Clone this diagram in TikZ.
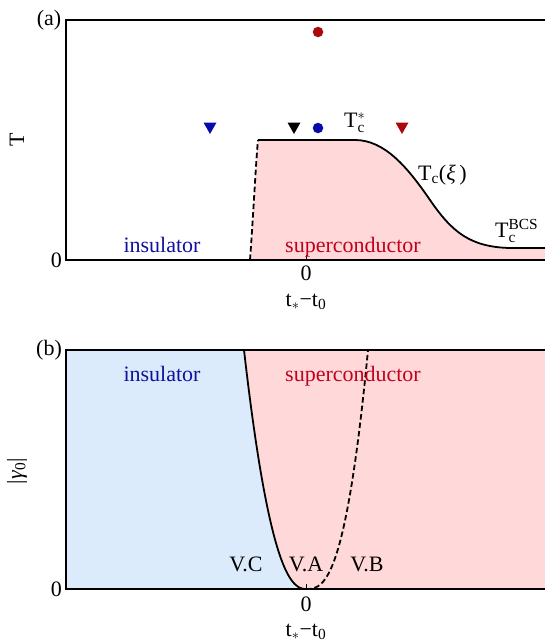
\documentclass[tikz,border=0pt]{standalone}
\usepackage{fontspec}
\usepackage{amsmath}
\setmainfont{Liberation Serif}
\definecolor{pinkfill}{HTML}{FFD9D9}
\definecolor{bluefill}{HTML}{DCEBFB}
\definecolor{tblue}{HTML}{10109E}
\definecolor{tred}{HTML}{C2001E}
\definecolor{mred}{HTML}{A80A0A}
\definecolor{mblue}{HTML}{0A0AA8}
\tikzset{
  frame/.style={line width=1.7pt},
  curve/.style={line width=1.8pt},
  dcurve/.style={line width=1.8pt, dash pattern=on 5.5pt off 3pt},
  lbl/.style={inner sep=0pt},
  dotm/.style={circle, fill=#1, minimum size=10.5pt, inner sep=0pt},
}
\newcommand\tridown[3]{\fill[#3] (#1-6.5,#2-5.5) -- (#1+6.5,#2-5.5) -- (#1,#2+6) -- cycle;}
\begin{document}
\begin{tikzpicture}[x=1pt,y=-1pt,font=\fontsize{22}{26}\selectfont]
\useasboundingbox (0,0) rectangle (545,642);
% ---------------- panel (a)
\fill[pinkfill] (250,260) .. controls (253,220) and (256,160) .. (258,140)
  -- (355,140) .. controls (385,140) and (408,168) .. (430,200)
  .. controls (452,232) and (470,247) .. (510,248) -- (545,248) -- (545,260) -- cycle;
\draw[dcurve] (250,260) .. controls (253,220) and (256,160) .. (258,140);
\draw[curve] (258,140) -- (355,140) .. controls (385,140) and (408,168) .. (430,200)
  .. controls (452,232) and (470,247) .. (510,248) -- (545,248);
\draw[frame] (545,20) -- (66,20) -- (66,260) -- (545,260);
\draw[line width=1pt] (306,260) -- (306,255);
\node[dotm=mred] (rdot) at (318,32) {};
\node[dotm=mblue] (bdot) at (318,128) {};
\tridown{210}{128}{mblue}
\tridown{294}{128}{black}
\tridown{402}{128}{mred}
\node[lbl] (la) at (49,20) {(a)};
\node[lbl,anchor=east] (ya0) at (62,260) {0};
\node[lbl,rotate=90] (ya) at (17,140) {T};
\node[lbl] (xa0) at (306,273) {0};
\node[lbl] (xa) at (306,302) {t$_*$−t$_{\text{0}}$};
\node[lbl,anchor=base,text=tblue] (insa) at (162,252) {insulator};
\node[lbl,anchor=base,text=tred] (sca) at (353,252) {superconductor};
\node[lbl,anchor=base west] (tcs) at (344,127) {T$^{*}_{\text{c}}$};
\node[lbl,anchor=base west] (tcx) at (418,180) {T$_{\text{c}}$(\textit{ξ}\,)};
\node[lbl,anchor=base west] (tcb) at (495,237) {T$^{\text{BCS}}_{\text{c}}$};
% ---------------- panel (b)
\fill[pinkfill] (66,350) rectangle (545,589);
\fill[bluefill] (66,350) -- (244,350)
  -- plot[domain=1:0.005, samples=80] ({306-62*\x}, {589-239*(\x)^2.27})
  -- (306,589) -- (66,589) -- cycle;
\draw[curve] (244,350) -- plot[domain=1:0.005, samples=80] ({306-62*\x}, {589-239*(\x)^2.27}) -- (306,589);
\draw[dcurve] (306,589) -- plot[domain=0.005:1, samples=80] ({306+62*\x}, {589-239*(\x)^2.7});
\draw[frame] (545,350) -- (66,350) -- (66,589) -- (545,589);
\draw[line width=1pt] (306,589) -- (306,584);
\node[lbl] (lb) at (49,350) {(b)};
\node[lbl,anchor=east] (yb0) at (62,589) {0};
\node[lbl,rotate=90] (yb) at (17,471) {|\textit{γ}$_{\text{0}}$|};
\node[lbl] (xb0) at (306,604) {0};
\node[lbl] (xb) at (306,632) {t$_*$−t$_{\text{0}}$};
\node[lbl,anchor=base,text=tblue] (insb) at (162,381) {insulator};
\node[lbl,anchor=base,text=tred] (scb) at (353,381) {superconductor};
\node[lbl,anchor=base] (vc) at (246,571) {V.C};
\node[lbl,anchor=base] (va) at (306,571) {V.A};
\node[lbl,anchor=base] (vb) at (367,571) {V.B};
\end{tikzpicture}
\end{document}
